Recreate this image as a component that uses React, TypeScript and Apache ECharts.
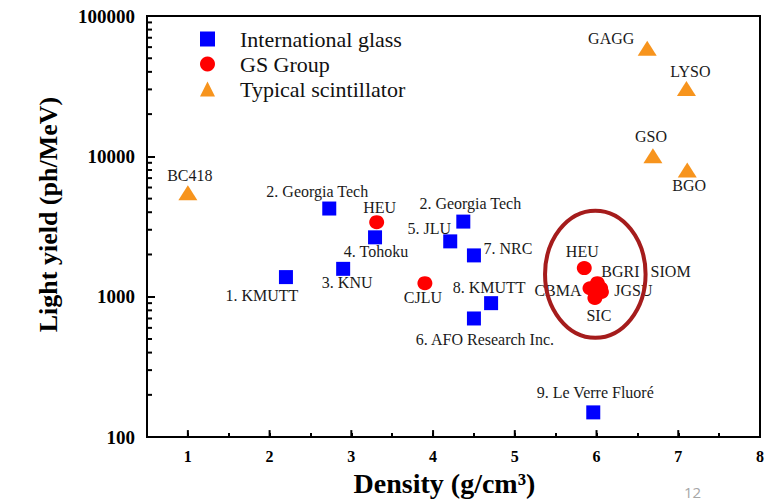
import React, { useEffect, useRef } from 'react';
import * as echarts from 'echarts';

const FONT = 'Liberation Serif, Times New Roman, serif';

// International glass
const glassNames = ['1. KMUTT', '2. Georgia Tech', '3. KNU', '4. Tohoku', '2. Georgia Tech', '5. JLU', '7. NRC', '8. KMUTT', '6. AFO Research Inc.', '9. Le Verre Fluoré'];
const glassDensity = [2.2, 2.73, 2.9, 3.29, 4.37, 4.21, 4.5, 4.71, 4.5, 5.96];
const glassYield = [1380, 4250, 1580, 2650, 3430, 2480, 1970, 900, 700, 150];

// GS Group
const gsNames = ['HEU', 'CJLU', 'HEU', 'BGRI', 'SIOM', 'CBMA', 'JGSU', 'SIC'];
const gsDensity = [3.31, 3.9, 5.85, 6.01, 6.05, 5.92, 6.06, 5.98];
const gsYield = [3400, 1250, 1600, 1250, 1150, 1150, 1080, 980];

// Typical scintillator
const scNames = ['BC418', 'GAGG', 'LYSO', 'GSO', 'BGO'];
const scDensity = [1.0, 6.62, 7.1, 6.69, 7.11];
const scYield = [5500, 59000, 30500, 10100, 8000];

// axis ticks
const xMajorTicks = [1, 2, 3, 4, 5, 6, 7, 8];
const yMinorTicks = [200, 300, 400, 500, 600, 700, 800, 900, 2000, 3000, 4000, 5000, 6000, 7000, 8000, 9000, 20000, 30000, 40000, 50000, 60000, 70000, 80000, 90000];

// highlight ellipse bounds (data units)
const ellipseX = [5.37, 6.6];
const ellipseY = [510, 4100];

// label layout offsets (pixels)
const glassLabelOffset = [[-24, 18], [-12, -17], [4, 14], [1, 14], [7, -18], [-21, -13], [34, -7], [-2, -16], [11, 21], [2, -20]];
const gsLabelOffset = [[3, -15], [-2, 14], [-2, -17], [23, -12], [70, -17], [-32, 2], [32, -2], [4, 18]];
const scLabelOffset = [[2, -17], [-36, -10], [4, -17], [-2, -19], [2, 16]];

export default function App() {
  const ref = useRef<HTMLDivElement>(null);
  useEffect(() => {
    const chart = echarts.init(ref.current!, null, { renderer: 'svg' });
    const mk = (names: string[], xs: number[], ys: number[], offs: number[][]) =>
      names.map((n, i) => ({ name: n, value: [xs[i], ys[i]], label: { offset: offs[i] } }));
    const labelStyle = {
      show: true,
      position: 'inside',
      formatter: '{b}',
      fontFamily: FONT,
      fontSize: 16,
      color: '#1a1a1a',
    };
    const option: any = {
      animation: false,
      backgroundColor: '#ffffff',
      textStyle: { fontFamily: FONT },
      grid: { left: 147, top: 16, right: 22, bottom: 62, show: true, borderColor: '#000', borderWidth: 2 },
      legend: {
        orient: 'vertical',
        left: 195,
        top: 23,
        itemWidth: 15,
        itemHeight: 15,
        itemGap: 3,
        data: [
          { name: 'International glass', icon: 'rect' },
          { name: 'GS Group', icon: 'circle' },
          { name: 'Typical scintillator', icon: 'triangle' },
        ],
        textStyle: { fontFamily: FONT, fontSize: 22, color: '#111', padding: [0, 0, 0, 20], lineHeight: 21.5 },
      },
      xAxis: {
        type: 'value',
        min: 0.5,
        max: 8,
        interval: 0.5,
        name: 'Density (g/cm³)',
        nameLocation: 'middle',
        nameGap: 24,
        nameTextStyle: { fontFamily: FONT, fontSize: 28, fontWeight: 'bold', color: '#000', padding: [0, 18, 0, 0] },
        axisLine: { lineStyle: { color: '#000', width: 2 } },
        axisTick: { inside: true, length: 4, lineStyle: { color: '#000', width: 2 } },
        axisLabel: {
          fontFamily: FONT,
          fontSize: 16,
          fontWeight: 'bold',
          color: '#000',
          margin: 11,
          formatter: (v: number) => (Number.isInteger(v) && v >= 1 ? String(v) : ''),
        },
        splitLine: { show: false },
      },
      yAxis: {
        type: 'log',
        logBase: 10,
        min: 100,
        max: 100000,
        name: 'Light yield (ph/MeV)',
        nameLocation: 'middle',
        nameGap: 86,
        nameTextStyle: { fontFamily: FONT, fontSize: 26, fontWeight: 'bold', color: '#000', padding: [0, 0, 0, 24] },
        axisLine: { lineStyle: { color: '#000', width: 2 } },
        axisTick: { inside: true, length: 8, lineStyle: { color: '#000', width: 2 } },
        axisLabel: {
          fontFamily: FONT,
          fontSize: 19,
          fontWeight: 'bold',
          color: '#000',
          margin: 12,
          formatter: (v: number) => String(Math.round(v)),
        },
        splitLine: { show: false },
      },
      series: [
        {
          name: 'International glass',
          type: 'scatter',
          symbol: 'rect',
          symbolSize: 14,
          itemStyle: { color: '#0000ff', opacity: 1 },
          label: labelStyle,
          data: mk(glassNames, glassDensity, glassYield, glassLabelOffset),
          z: 3,
        },
        {
          name: 'GS Group',
          type: 'scatter',
          symbol: 'circle',
          symbolSize: [15, 14],
          itemStyle: { color: '#ff0000', opacity: 1 },
          label: labelStyle,
          data: mk(gsNames, gsDensity, gsYield, gsLabelOffset),
          z: 3,
        },
        {
          name: 'Typical scintillator',
          type: 'scatter',
          symbol: 'triangle',
          symbolSize: [19, 15],
          itemStyle: { color: '#f7941d', opacity: 1 },
          label: labelStyle,
          data: mk(scNames, scDensity, scYield, scLabelOffset),
          z: 3,
        },
        {
          name: 'yMinor',
          type: 'custom',
          silent: true,
          clip: false,
          data: yMinorTicks.map((v) => [0.5, v]),
          renderItem: (_p: any, api: any) => {
            const p = api.coord([api.value(0), api.value(1)]);
            return {
              type: 'line',
              shape: { x1: p[0], y1: p[1], x2: p[0] + 5, y2: p[1] },
              style: { stroke: '#000', lineWidth: 2 },
            };
          },
        },
        {
          name: 'xMajor',
          type: 'custom',
          silent: true,
          clip: false,
          data: xMajorTicks.map((v) => [v, 100]),
          renderItem: (_p: any, api: any) => {
            const p = api.coord([api.value(0), api.value(1)]);
            return {
              type: 'line',
              shape: { x1: p[0], y1: p[1], x2: p[0], y2: p[1] - 7 },
              style: { stroke: '#000', lineWidth: 2 },
            };
          },
        },
      ],
    };
    chart.setOption(option);
    const tl = chart.convertToPixel({ gridIndex: 0 }, [ellipseX[0], ellipseY[1]]) as number[];
    const br = chart.convertToPixel({ gridIndex: 0 }, [ellipseX[1], ellipseY[0]]) as number[];
    chart.setOption({
      graphic: [
        {
          type: 'ellipse',
          shape: { cx: (tl[0] + br[0]) / 2, cy: (tl[1] + br[1]) / 2, rx: (br[0] - tl[0]) / 2, ry: (br[1] - tl[1]) / 2 },
          style: { fill: 'none', stroke: '#a51c1c', lineWidth: 4 },
          z: 10,
          silent: true,
        },
        {
          type: 'text',
          left: 684,
          top: 484,
          style: { text: '12', fontFamily: 'Open Sans, Noto Sans, sans-serif', fontSize: 15, fill: '#a6a6a6' },
          silent: true,
        },
      ],
    });
    return () => chart.dispose();
  }, []);
  return <div ref={ref} style={{ position: 'fixed', left: 0, top: 0, width: 782, height: 502 }} />;
}
